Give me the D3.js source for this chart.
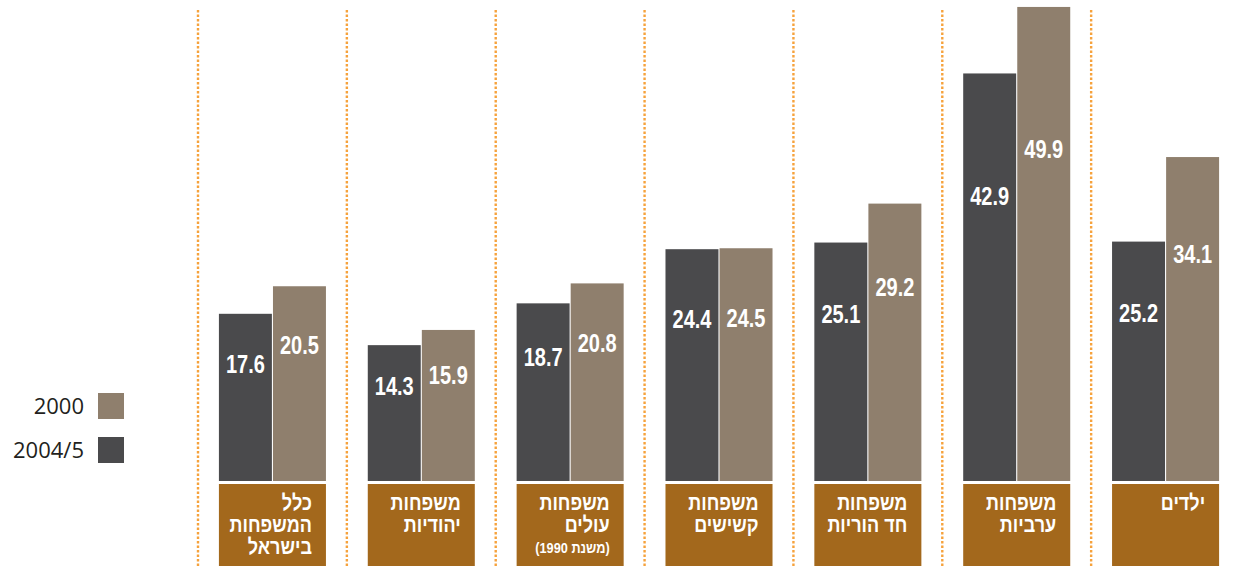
<!DOCTYPE html>
<html>
<head>
<meta charset="utf-8">
<script src="https://cdn.jsdelivr.net/npm/d3@7"></script>
<style>
  body { margin: 0; background: #fff; }
  svg { display: block; }
</style>
</head>
<body>
<div id="chart"></div>
<script>
// categories, left to right as drawn
var categories = ["all", "jewish", "olim", "elderly", "single", "arab", "children"];
var catLines = [
    ["כלל", "המשפחות", "בישראל"],
    ["משפחות", "יהודיות"],
    ["משפחות", "עולים"],
    ["משפחות", "קשישים"],
    ["משפחות", "חד הוריות"],
    ["משפחות", "ערביות"],
    ["ילדים"]
];
var catNotes = ["", "", "(משנת 1990)", "", "", "", ""];
var series = ["2004/5", "2000"];
var values2004 = [17.6, 14.3, 18.7, 24.4, 25.1, 42.9, 25.2];
var values2000 = [20.5, 15.9, 20.8, 24.5, 29.2, 49.9, 34.1];
var legendOrder = ["2000", "2004/5"];

var W = 1235, H = 566;
var colors = {"2004/5": "#4a4a4c", "2000": "#8f7f6d"};
var boxColor = "#a3681c";
var boldFont = "'Liberation Sans', 'DejaVu Sans', sans-serif";

var svg = d3.select("#chart").append("svg")
    .attr("width", W).attr("height", H);

var x = d3.scaleBand().domain(categories)
    .range([198, 1240])
    .paddingInner(0.281)
    .paddingOuter(0.1405);
var xs = d3.scaleBand().domain(series)
    .range([0, x.bandwidth()])
    .paddingInner(0.02);
var y = d3.scaleLinear().domain([0, 50]).range([481, 6]);

var data = categories.map(function(c, i){
    return {cat: c, i: i, vals: [
        {s: "2004/5", v: values2004[i]},
        {s: "2000", v: values2000[i]}
    ]};
});

// dotted dividers
var gap = x.step() * x.paddingInner() / 2;
svg.append("g").selectAll("line").data(categories).enter()
    .append("line")
    .attr("x1", function(d){ return x(d) - gap; })
    .attr("x2", function(d){ return x(d) - gap; })
    .attr("y1", 10).attr("y2", H)
    .attr("stroke", "#f6a23c")
    .attr("stroke-width", 2.4)
    .attr("stroke-dasharray", "2.4 2.1");

var groups = svg.append("g").selectAll(".grp")
    .data(data).enter().append("g")
    .attr("transform", function(d){ return "translate(" + x(d.cat) + ",0)"; });

groups.selectAll("rect").data(function(d){ return d.vals; }).enter()
    .append("rect")
    .attr("x", function(d){ return xs(d.s); })
    .attr("width", xs.bandwidth())
    .attr("y", function(d){ return y(d.v); })
    .attr("height", function(d){ return y(0) - y(d.v); })
    .attr("fill", function(d){ return colors[d.s]; });

// value labels, condensed
groups.selectAll(".val").data(function(d){ return d.vals; }).enter()
    .append("text")
    .attr("transform", function(d){
        return "translate(" + (xs(d.s) + xs.bandwidth() / 2) + "," + (y(d.v * 0.7) + 9) + ") scale(0.8,1)";
    })
    .attr("text-anchor", "middle")
    .attr("fill", "#fff")
    .style("font-family", boldFont)
    .style("font-weight", "bold")
    .style("font-size", "25px")
    .text(function(d){ return d.v.toFixed(1); });

// category boxes
groups.append("rect")
    .attr("x", 0).attr("y", 484)
    .attr("width", x.bandwidth()).attr("height", H - 484)
    .attr("fill", boxColor);

groups.each(function(d){
    var g = d3.select(this);
    var lines = catLines[d.i];
    var rx = x.bandwidth() - 14;
    lines.forEach(function(t, k){
        g.append("text")
            .attr("transform", "translate(" + rx + "," + (510 + k * 22) + ") scale(0.82,1)")
            .attr("direction", "rtl")
            .attr("text-anchor", "start")
            .attr("fill", "#fff")
            .style("font-family", boldFont)
            .style("font-weight", "bold")
            .style("font-size", "22px")
            .text(t);
    });
    if(catNotes[d.i]){
        g.append("text")
            .attr("transform", "translate(" + rx + "," + (510 + lines.length * 22 - 1) + ") scale(0.85,1)")
            .attr("direction", "rtl")
            .attr("text-anchor", "start")
            .attr("fill", "#fff")
            .style("font-family", boldFont)
            .style("font-weight", "bold")
            .style("font-size", "15px")
            .text(catNotes[d.i]);
    }
});

// legend
var legend = svg.append("g").selectAll("g").data(legendOrder).enter()
    .append("g")
    .attr("transform", function(d, i){ return "translate(0," + (393 + i * 44) + ")"; });
legend.append("rect")
    .attr("x", 98).attr("width", 26).attr("height", 26)
    .attr("fill", function(d){ return colors[d]; });
legend.append("text")
    .attr("x", 84).attr("y", 21)
    .attr("text-anchor", "end")
    .attr("fill", "#231f20")
    .style("font-family", "'Open Sans', sans-serif")
    .style("font-size", "22px")
    .text(function(d){ return d; });
</script>
</body>
</html>
